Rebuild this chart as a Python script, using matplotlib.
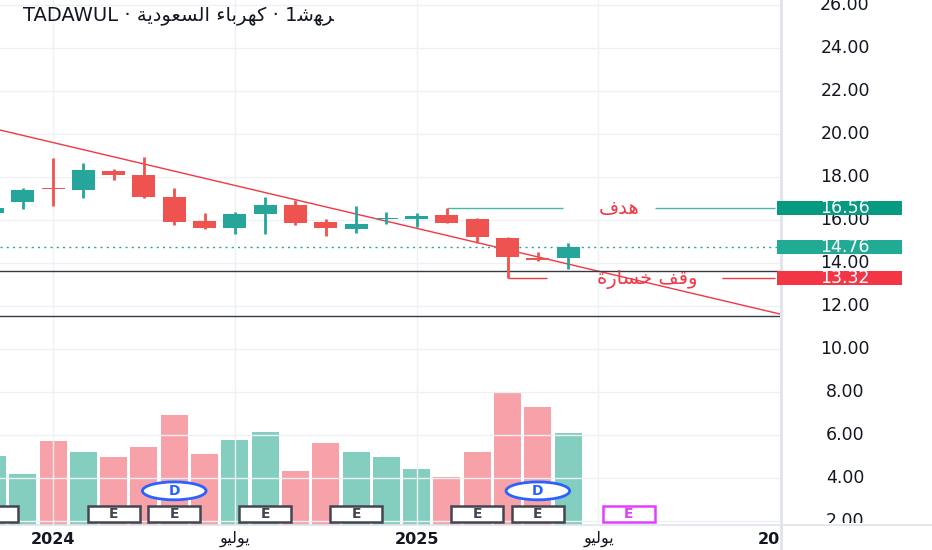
import matplotlib.pyplot as plt
import matplotlib.transforms as mtransforms
from matplotlib.patches import Rectangle, Ellipse
from matplotlib.lines import Line2D

plt.rcParams['font.family'] = ['DejaVu Sans']

# ---- data ----
months = ['2023-11', '2023-12', '2024-01', '2024-02', '2024-03', '2024-04', '2024-05',
          '2024-06', '2024-07', '2024-08', '2024-09', '2024-10', '2024-11', '2024-12',
          '2025-01', '2025-02', '2025-03', '2025-04', '2025-05', '2025-06']
opens = [16.34, 16.85, 17.45, 17.41, 18.29, 18.11, 17.09, 15.97, 15.64, 16.29,
         16.71, 15.92, 15.60, 16.06, 16.06, 16.25, 16.06, 15.18, 14.25, 14.25]
highs = [16.70, 17.50, 18.90, 18.67, 18.39, 18.95, 17.50, 16.34, 16.39, 17.09,
         16.95, 16.06, 16.67, 16.39, 16.34, 16.56, 16.11, 15.23, 14.53, 14.95]
lows = [16.20, 16.53, 16.67, 17.04, 17.88, 17.04, 15.78, 15.60, 15.36, 15.36,
        15.78, 15.27, 15.41, 15.83, 15.69, 15.88, 14.95, 13.32, 14.11, 13.74]
closes = [16.57, 17.41, 17.44, 18.34, 18.11, 17.09, 15.92, 15.64, 16.29, 16.71,
          15.88, 15.64, 15.83, 16.11, 16.20, 15.88, 15.23, 14.29, 14.16, 14.76]
volumes = [6.9, 5.1, 8.4, 7.3, 6.8, 7.8, 11.0, 7.1, 8.5, 9.3,
           5.4, 8.2, 7.3, 6.8, 5.6, 4.8, 7.3, 13.2, 11.8, 9.2]

earnings = ['2023-11', '2024-03', '2024-05', '2024-08', '2024-11', '2025-03', '2025-05']
earnings_next = ['2025-08']
dividends = ['2024-05', '2025-05']

last_price = 14.76
target = 16.56          # هدف
stop = 13.32            # وقف خسارة
support_lines = [13.64, 11.57]
trend_pts = [('2024-01', 19.62), ('2026-01', 11.64)]

price_ticks = [2, 4, 6, 8, 10, 12, 14, 16, 18, 20, 22, 24, 26]
xlabels = [('2024-01', '2024', 'bold'), ('2024-07', 'يوليو', 'normal'),
           ('2025-01', '2025', 'bold'), ('2025-07', 'يوليو', 'normal'),
           ('2026-01', '2026', 'bold')]

UP = '#26A69A'
DOWN = '#EF5350'
VOL_UP = '#84CEC0'
VOL_DOWN = '#F7A1A8'


def midx(m):
    y, mo = m.split('-')
    return (int(y) - 2023) * 12 + int(mo) - 11


# minimal Arabic shaping (presentation forms), matplotlib has no shaping
AR = {'ء': (0xFE80, 1), 'ا': (0xFE8D, 2), 'ب': (0xFE8F, 4), 'ة': (0xFE93, 2),
      'خ': (0xFEA5, 4), 'د': (0xFEA9, 2), 'ر': (0xFEAD, 2), 'س': (0xFEB1, 4),
      'ش': (0xFEB5, 4), 'ع': (0xFEC9, 4), 'ف': (0xFED1, 4), 'ق': (0xFED5, 4),
      'ك': (0xFED9, 4), 'ل': (0xFEDD, 4), 'ه': (0xFEE9, 4), 'و': (0xFEED, 2),
      'ي': (0xFEF1, 4)}


def shape(s):
    out = []
    for k, ch in enumerate(s):
        if ch not in AR:
            out.append(ch)
            continue
        base, n = AR[ch]
        prev = s[k - 1] if k > 0 else ''
        nxt = s[k + 1] if k + 1 < len(s) else ''
        jp = prev in AR and AR[prev][1] == 4
        jn = n == 4 and nxt in AR and AR[nxt][1] >= 2
        if jp and jn:
            out.append(chr(base + 3))
        elif jp:
            out.append(chr(base + 1))
        elif jn:
            out.append(chr(base + 2))
        else:
            out.append(chr(base))
    return ''.join(out)


def ar(s):
    return shape(s)[::-1]


x = [midx(m) for m in months]

fig = plt.figure(figsize=(9.32, 5.5), dpi=100)
ax = fig.add_axes([0, 25 / 550, 780 / 932, 525 / 550])
ax2 = ax.twinx()
ax.set_zorder(2)
ax2.set_zorder(1)
ax.patch.set_visible(False)

xmin, xmax = 0.25, 25.99
ax.set_xlim(xmin, xmax)
ax.set_ylim(1.83, 26.25)
ax2.set_ylim(0, 52.5)

for a in (ax, ax2):
    a.set_xticks([])
    a.set_yticks([])
    for s in a.spines.values():
        s.set_visible(False)

# grid
for v in price_ticks:
    ax.axhline(v, color='#EEF0F4', lw=1, zorder=0)
for m, _, _ in xlabels[:-1]:
    ax.axvline(midx(m), color='#EEF0F4', lw=1, zorder=0)

# volume
vcols = [VOL_UP if c >= o else VOL_DOWN for o, c in zip(opens, closes)]
ax2.bar(x, volumes, width=0.89, color=vcols, zorder=1)

# candles
ccols = [UP if c > o else DOWN for o, c in zip(opens, closes)]
ax.vlines(x, lows, highs, colors=ccols, lw=2, zorder=4)
bot = [min(o, c) for o, c in zip(opens, closes)]
hgt = [max(abs(c - o), 0.06) for o, c in zip(opens, closes)]
ax.bar(x, hgt, bottom=bot, width=0.76, color=ccols, zorder=5)

# lines
(t1, p1), (t2, p2) = trend_pts
ax.axline((midx(t1), p1), (midx(t2), p2), color='#F23645', lw=1, zorder=3)
for v in support_lines:
    ax.axhline(v, color='#363A45', lw=1, zorder=3)
ax.axhline(last_price, color=UP, lw=1, ls=(0, (1.5, 3)), zorder=3)

# target / stop lines with text
ax.hlines([target, target], [midx('2025-02'), 21.87], [18.83, 25.83], color='#4DB6AC', lw=1, zorder=3)
ax.text(20.68, target, ar('هدف'), color='#F23645', fontsize=14, ha='center', va='center', zorder=6)
ax.hlines([stop, stop], [midx('2025-04'), 24.08], [18.31, 25.83], color='#F23645', lw=1, zorder=3)
ax.text(21.6, stop - 0.05, ar('وقف خسارة'), color='#F23645', fontsize=14, ha='center', va='center', zorder=6)

# event markers
xt = ax.get_xaxis_transform()
for m in earnings + earnings_next:
    col = '#E040FB' if m in earnings_next else '#434651'
    ax.add_patch(Rectangle((midx(m) - 0.86, 0.006), 1.72, 0.03, transform=xt,
                           facecolor='white', edgecolor=col, lw=1.8, zorder=7))
    ax.text(midx(m), 0.021, 'E', transform=xt, color=col, fontsize=10, fontweight='bold',
            ha='center', va='center', zorder=8)
for m in dividends:
    ax.add_patch(Ellipse((midx(m), 0.065), 2.1, 0.034, transform=xt,
                         facecolor='white', edgecolor='#2962FF', lw=2, zorder=7))
    ax.text(midx(m), 0.065, 'D', transform=xt, color='#2962FF', fontsize=10, fontweight='bold',
            ha='center', va='center', zorder=8)

# right price scale
bt = mtransforms.blended_transform_factory(fig.transFigure, ax.transData)
clip_y = mtransforms.TransformedBbox(mtransforms.Bbox([[0.84, 27 / 550], [1, 1]]), fig.transFigure)
for v in price_ticks:
    t = ax.text(0.9067, v, f'{v:.2f}', transform=bt, color='#131722', fontsize=12.5,
                ha='center', va='center', clip_on=False, zorder=9)
    if v == 2:
        t.set_clip_box(clip_y)
        t.set_clip_on(True)

for v, col in [(target, '#089981'), (last_price, '#22AB94'), (stop, '#F23645')]:
    ax.add_patch(Rectangle((777 / 932, v - 0.32), 125 / 932, 0.64, transform=bt,
                           facecolor=col, edgecolor='none', clip_on=False, zorder=10))
    ax.text(0.9067, v, f'{v:.2f}', transform=bt, color='white', fontsize=12.5,
            ha='center', va='center', clip_on=False, zorder=11)

# time axis labels
clip_x = mtransforms.TransformedBbox(mtransforms.Bbox([[0, 0], [780 / 932, 1]]), fig.transFigure)
lt = mtransforms.blended_transform_factory(ax.transData, fig.transFigure)
for m, lab, w in xlabels:
    txt = lab if lab.isdigit() else ar(lab)
    t = ax.text(midx(m), 11 / 550, txt, transform=lt, color='#131722', fontsize=11.5,
                fontweight=w, ha='center', va='center', clip_on=True)
    t.set_clip_box(clip_x)

# frame lines
fig.add_artist(Line2D([0, 1], [25 / 550, 25 / 550], color='#E0E3EB', lw=1.2))
fig.add_artist(Line2D([781 / 932, 781 / 932], [0, 1], color='#E0E3EB', lw=2))

# title
title = 'TADAWUL · ' + ar('كهرباء السعودية') + ' · 1' + shape('شهر')
fig.text(23 / 932, 1 - 16 / 550, title, color='#131722', fontsize=14, ha='left', va='center')

fig.savefig('out.png', dpi=100, facecolor='white')
